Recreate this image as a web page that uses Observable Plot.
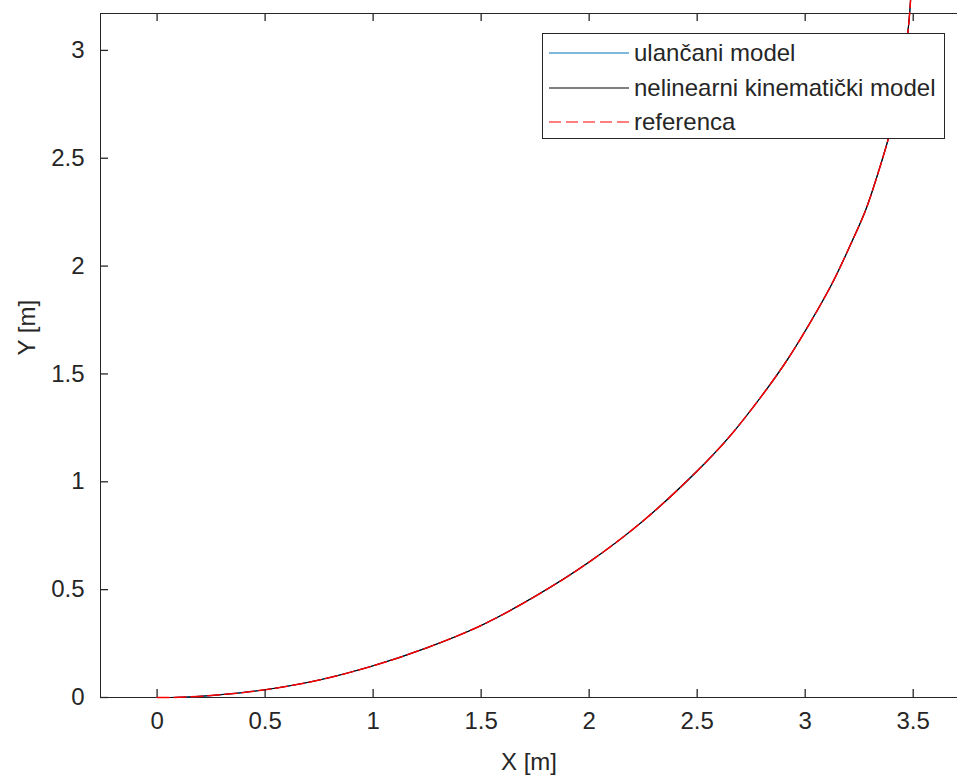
<!DOCTYPE html>
<html>
<head>
<meta charset="utf-8">
<script src="https://cdn.jsdelivr.net/npm/d3@7"></script>
<script src="https://cdn.jsdelivr.net/npm/@observablehq/plot@0.6"></script>
<style>
  html, body { margin: 0; padding: 0; background: #fff; }
  #wrap { position: relative; width: 957px; height: 780px; font-family: "Liberation Sans", Arial, sans-serif; }
  #legend { position: absolute; left: 542px; top: 33px; width: 401px; height: 104px; border: 1px solid #262626; background: #fff; }
  .row { position: absolute; left: 0; height: 30px; display: flex; align-items: center; }
  .row svg { margin-left: 6px; }
  .row span { margin-left: 5px; font-size: 24px; color: #262626; white-space: nowrap; }
</style>
</head>
<body>
<div id="wrap"></div>
<script>
// Trajectory (all three series overlap)
const trajX = [0, 0.1, 0.25, 0.5, 0.75, 1.0, 1.25, 1.5, 1.75, 2.0, 2.25, 2.5, 2.65, 2.8, 2.92, 3.03, 3.13, 3.21, 3.28, 3.34, 3.39, 3.43, 3.46, 3.48, 3.49];
const trajY = [0, 0.001, 0.009, 0.036, 0.081, 0.147, 0.231, 0.334, 0.469, 0.628, 0.819, 1.05, 1.21, 1.40, 1.57, 1.75, 1.93, 2.10, 2.26, 2.44, 2.61, 2.78, 2.96, 3.13, 3.27];
const seriesNames = ["ulančani model", "nelinearni kinematički model", "referenca"];
const seriesColors = ["#0072BD", "#000000", "#FF0000"];
const seriesWidths = [1.2, 1.1, 1.5];
const seriesDash = [null, null, "12,5"];
const xTicks = [0, 0.5, 1, 1.5, 2, 2.5, 3, 3.5];
const yTicks = [0, 0.5, 1, 1.5, 2, 2.5, 3];
const xDomain = [-0.262, 3.705];
const yDomain = [0, 3.171];

const rows = seriesNames.map((name, i) => trajX.map((x, j) => ({series: name, x, y: trajY[j]})));
const xTickRows = xTicks.map(v => ({v}));
const yTickRows = yTicks.map(v => ({v}));

const W = 957, H = 780, mL = 100, mR = 0, mT = 13, mB = 83, tickPx = 8;
const innerH = H - mT - mB, innerW = W - mL - mR;
const axisColor = "#262626";
const chart = Plot.plot({
  width: W,
  height: H,
  marginLeft: mL,
  marginRight: mR,
  marginTop: mT,
  marginBottom: mB,
  style: {fontFamily: "'Liberation Sans', Arial, sans-serif", fontSize: "24px", color: axisColor, background: "#fff"},
  x: {domain: xDomain},
  y: {domain: yDomain},
  marks: [
    Plot.frame({anchor: "left", stroke: axisColor}),
    Plot.frame({anchor: "top", stroke: axisColor}),
    Plot.frame({anchor: "bottom", stroke: axisColor}),
    Plot.axisX(xTicks, {anchor: "bottom", tickSize: 0, tickPadding: 14, label: null, fill: axisColor, tickFormat: d => String(d)}),
    Plot.axisY(yTicks, {anchor: "left", tickSize: 0, tickPadding: 16, label: null, fill: axisColor, tickFormat: d => String(d)}),
    ...rows.map((data, i) => Plot.line(data, {
      x: "x", y: "y", stroke: seriesColors[i], strokeWidth: seriesWidths[i],
      strokeDasharray: seriesDash[i], curve: "catmull-rom"
    })),
    // inward ticks (bottom, top, left)
    Plot.tickX(xTickRows, {x: "v", stroke: axisColor, strokeWidth: 1.3, insetTop: innerH - tickPx}),
    Plot.tickX(xTickRows, {x: "v", stroke: axisColor, strokeWidth: 1.3, insetBottom: innerH - tickPx}),
    Plot.tickY(yTickRows, {y: "v", stroke: axisColor, strokeWidth: 1.3, insetRight: innerW - tickPx}),
    Plot.text(["X [m]"], {frameAnchor: "bottom", dy: 72, fill: axisColor, fontSize: 24}),
    Plot.text(["Y [m]"], {frameAnchor: "left", dx: -73, rotate: -90, fill: axisColor, fontSize: 24})
  ]
});
const wrap = document.getElementById("wrap");
wrap.appendChild(chart);

// Legend inside the axes (top right)
const legend = document.createElement("div");
legend.id = "legend";
const rowTops = [4, 39, 73];
seriesNames.forEach((name, i) => {
  const r = document.createElement("div");
  r.className = "row";
  r.style.top = rowTops[i] + "px";
  const dash = seriesDash[i] ? `stroke-dasharray="${seriesDash[i]}"` : "";
  r.innerHTML = `<svg width="80" height="10"><line x1="0" y1="5" x2="80" y2="5" stroke="${seriesColors[i]}" stroke-width="1.2" ${dash}/></svg><span>${name}</span>`;
  legend.appendChild(r);
});
wrap.appendChild(legend);
</script>
</body>
</html>
